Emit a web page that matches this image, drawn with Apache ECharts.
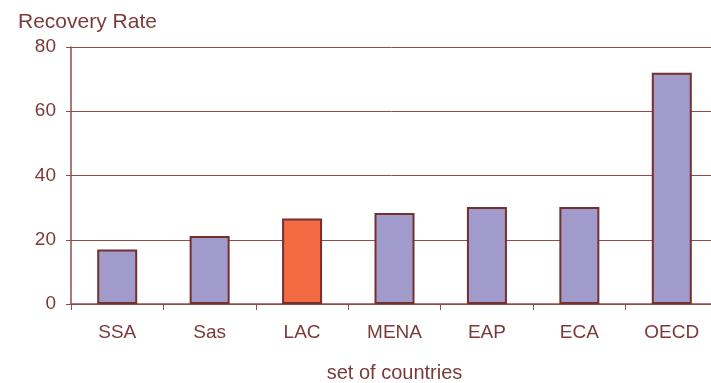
<!DOCTYPE html>
<html>
<head>
<meta charset="utf-8">
<script src="https://cdn.jsdelivr.net/npm/echarts@6/dist/echarts.min.js"></script>
<style>
  html, body { margin: 0; padding: 0; background: #fff; }
  #chart { width: 711px; height: 383px; }
</style>
</head>
<body>
<div id="chart"></div>
<script>
// 国家组与回收率
let countries = ['SSA', 'Sas', 'LAC', 'MENA', 'EAP', 'ECA', 'OECD']
let recoveryRate = [17, 21.2, 26.6, 28.3, 30.2, 30.2, 72]
let yTicks = [0, 20, 40, 60, 80]

let highlight = 'LAC'
let textColor = '#7b3a3a'
let lineColor = '#8e4d4d'

let myChart = echarts.init(document.getElementById('chart'))

let option = {
  backgroundColor: '#fff',
  animation: false,
  textStyle: { fontFamily: 'Liberation Sans, Arial, sans-serif' },
  title: {
    text: 'Recovery Rate',
    left: 13,
    top: 7,
    textStyle: { color: textColor, fontSize: 21, fontWeight: 'normal' }
  },
  grid: {
    left: 71,
    right: -7,
    top: 47,
    bottom: 79,
    containLabel: false,
    outerBoundsMode: 'none'
  },
  xAxis: {
    type: 'category',
    data: countries,
    name: 'set of countries',
    nameLocation: 'middle',
    nameGap: 59,
    nameTextStyle: { color: textColor, fontSize: 20 },
    axisLine: { lineStyle: { color: lineColor, width: 1.5 } },
    axisTick: { show: true, length: 6, alignWithLabel: false, lineStyle: { color: lineColor } },
    axisLabel: { color: textColor, fontSize: 19, margin: 19 }
  },
  yAxis: {
    type: 'value',
    min: yTicks[0],
    max: yTicks[yTicks.length - 1],
    interval: 20,
    axisLine: { show: true, lineStyle: { color: lineColor, width: 1.5 } },
    axisTick: { show: true, length: 5, lineStyle: { color: lineColor } },
    axisLabel: { color: textColor, fontSize: 19, margin: 15 },
    splitLine: { lineStyle: { color: lineColor, width: 1 } }
  },
  series: [{
    type: 'bar',
    barWidth: 40,
    data: recoveryRate.map((v, i) => ({
      value: v,
      itemStyle: { color: countries[i] === highlight ? '#f26b43' : '#a09bcb' }
    })),
    itemStyle: { borderColor: '#73302f', borderWidth: 2 }
  }]
}

myChart.setOption(option)
window.addEventListener('resize', function () {
  myChart.resize()
})
</script>
</body>
</html>
